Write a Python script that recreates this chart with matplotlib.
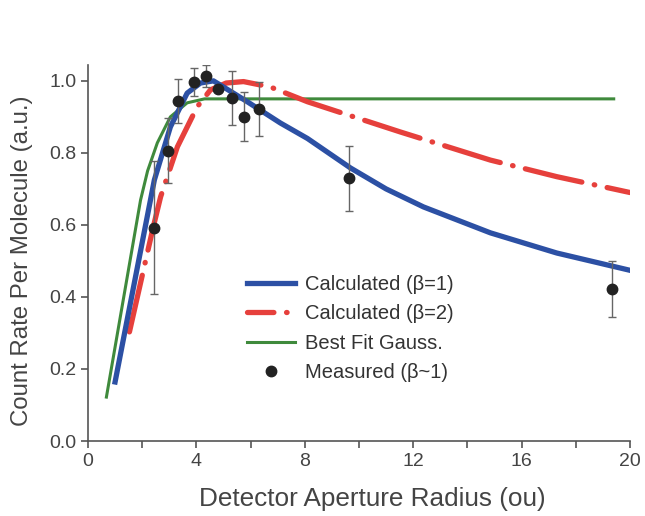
import matplotlib.pyplot as plt
from matplotlib.lines import Line2D

# Werte
blue_x = [1.0, 2.45, 3.04, 3.66, 4.15, 4.63, 5.0, 5.88, 7.1, 8.1, 9.69, 11.0, 12.38, 14.85, 17.3, 20.0]
blue_y = [0.164, 0.725, 0.872, 0.966, 0.994, 1.0, 0.983, 0.942, 0.883, 0.84, 0.758, 0.70, 0.65, 0.578, 0.522, 0.474]

red_x = [1.53, 2.38, 2.68, 3.3, 4.03, 4.52, 5.1, 5.74, 6.73, 8.1, 9.2, 11.53, 14.85, 17.3, 20.0]
red_y = [0.303, 0.585, 0.678, 0.817, 0.928, 0.975, 0.994, 0.998, 0.983, 0.942, 0.915, 0.858, 0.78, 0.734, 0.69]

green_x = [0.68, 1.94, 2.2, 2.56, 3.04, 3.66, 4.3, 19.4]
green_y = [0.122, 0.669, 0.75, 0.828, 0.9, 0.939, 0.95, 0.95]

meas_x = [2.45, 2.94, 3.34, 3.9, 4.37, 4.8, 5.33, 5.77, 6.3, 9.65, 19.35]
meas_y = [0.592, 0.806, 0.944, 0.997, 1.014, 0.978, 0.953, 0.9, 0.922, 0.73, 0.422]
meas_err = [0.185, 0.09, 0.06, 0.04, 0.03, 0.0, 0.075, 0.068, 0.075, 0.09, 0.078]

x_ticks = [0, 4, 8, 12, 16, 20]
y_ticks = [0.0, 0.2, 0.4, 0.6, 0.8, 1.0]

plt.rcParams['font.family'] = ['Liberation Sans', 'DejaVu Sans']

BLUE = '#2c50a4'
RED = '#e6403c'
GREEN = '#3f8a3c'
DOT = '#222222'
RED_DASH = (11, 2.4, 0.1, 2.4)

fig = plt.figure(figsize=(6.45, 5.16), dpi=100)
ax = fig.add_axes([0.1364, 0.1453, 0.8403, 0.7287])

ax.plot(green_x, green_y, color=GREEN, lw=2.2, zorder=2)
ax.plot(red_x, red_y, color=RED, lw=3.8, dashes=RED_DASH, dash_capstyle='round', zorder=3)
ax.plot(blue_x, blue_y, color=BLUE, lw=3.8, zorder=4)
ax.errorbar(meas_x, meas_y, yerr=meas_err, fmt='o', color=DOT, ms=7.5,
            ecolor='#666666', elinewidth=1.0, capsize=3, capthick=1.0, zorder=5)

ax.set_xlim(0, 20)
ax.set_ylim(0, 1.044)
ax.set_xticks(x_ticks)
ax.set_xticks([2, 6, 10, 14, 18], minor=True)
ax.set_yticks(y_ticks)
ax.set_yticklabels(['%.1f' % v for v in y_ticks])

for s in ['top', 'right']:
    ax.spines[s].set_visible(False)
for s in ['left', 'bottom']:
    ax.spines[s].set_color('#555555')
    ax.spines[s].set_linewidth(1.2)
ax.tick_params(which='both', direction='out', length=5, width=1.2, color='#555555',
               labelsize=14, labelcolor='#444444')

ax.set_xlabel('Detector Aperture Radius (ou)', fontsize=18.8, color='#444444')
ax.set_ylabel('Count Rate Per Molecule (a.u.)', fontsize=17.3, color='#444444')
ax.xaxis.set_label_coords(0.525, -0.122)
ax.yaxis.set_label_coords(-0.101, 0.48)

handles = [
    Line2D([], [], color=BLUE, lw=3.8),
    Line2D([], [], color=RED, lw=3.8, dashes=(5, 2.4, 0.1, 2.4), dash_capstyle='round'),
    Line2D([], [], color=GREEN, lw=2.2),
    Line2D([], [], ls='none', marker='o', color=DOT, ms=7.5),
]
labels = ['Calculated (\u03b2=1)', 'Calculated (\u03b2=2)', 'Best Fit Gauss.', 'Measured (\u03b2~1)']
ax.legend(handles, labels, loc='upper left', bbox_to_anchor=(0.279, 0.463), frameon=False,
          fontsize=14.5, handlelength=2.35, handletextpad=0.5, labelspacing=0.52,
          labelcolor='#333333', borderaxespad=0)

fig.savefig('out.png', dpi=100)
